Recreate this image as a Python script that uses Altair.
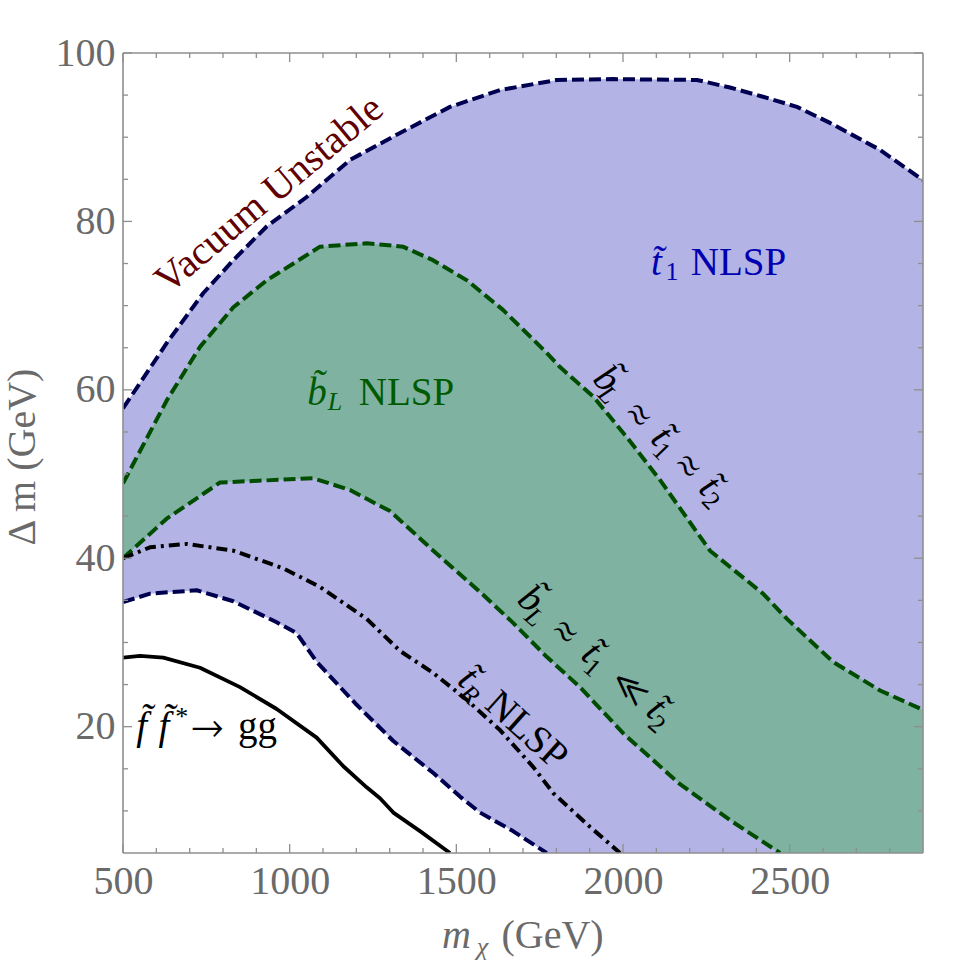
import altair as alt
import pandas as pd

# ---------------------------------------------------------------
# Region boundaries in the (m_chi, Delta m) plane, both in GeV
# ---------------------------------------------------------------
# upper edge of the viable region (vacuum stability bound)
vac_x = [500, 632, 741, 831, 931, 1051, 1181, 1331, 1481, 1631, 1802, 1970, 2222, 2321, 2420, 2522, 2621, 2771, 2900]
vac_y = [57.8, 65.6, 71.5, 75.4, 79.4, 82.9, 87.3, 90.5, 93.6, 95.6, 96.8, 96.9, 96.8, 95.9, 94.8, 93.6, 91.7, 88.5, 84.9]

# upper edge of the sbottom-NLSP band
bl_top_x = [500, 632, 731, 831, 931, 1091, 1231, 1340, 1430, 1532, 1640, 1771, 1811, 1911, 2011, 2111, 2211, 2261, 2420, 2492, 2630, 2771, 2900]
bl_top_y = [48.9, 58.8, 65.1, 69.8, 73.0, 77.0, 77.4, 77.0, 75.4, 73.0, 69.5, 64.4, 62.7, 59.2, 54.4, 49.3, 43.7, 40.9, 35.8, 32.8, 27.7, 24.3, 22.0]

# lower edge of the sbottom-NLSP band
bl_bot_x = [500, 631, 791, 1071, 1181, 1301, 1431, 1571, 1671, 1771, 1871, 2001, 2170, 2321, 2471]
bl_bot_y = [40.0, 44.7, 49.0, 49.5, 48.1, 45.6, 40.9, 36.0, 32.3, 28.3, 24.7, 19.2, 13.2, 8.9, 5.0]

# lower edge of the viable region
low_x = [500, 581, 721, 831, 961, 1021, 1081, 1201, 1311, 1431, 1511, 1571, 1670, 1771]
low_y = [34.8, 35.8, 36.2, 34.9, 32.4, 31.1, 27.7, 22.6, 18.3, 14.5, 11.7, 9.8, 7.6, 5.0]

# right-handed stop NLSP boundary (dash-dot)
tr_x = [500, 581, 691, 831, 981, 1091, 1231, 1331, 1430, 1531, 1631, 1731, 1791, 1901, 1991]
tr_y = [40.0, 41.3, 41.7, 40.9, 38.8, 36.6, 32.8, 29.0, 26.4, 23.2, 19.6, 15.2, 12.1, 8.1, 5.0]

# sfermion annihilation into gluons (solid)
gg_x = [500, 551, 621, 731, 851, 961, 1081, 1161, 1231, 1271, 1311, 1391, 1481]
gg_y = [28.2, 28.4, 28.2, 27.0, 24.7, 22.1, 18.7, 15.3, 12.8, 11.5, 9.8, 7.6, 5.0]

X_DOMAIN = [500, 2900]
Y_DOMAIN = [5, 100]
x_major = [500, 1000, 1500, 2000, 2500]
y_major = [20, 40, 60, 80, 100]
x_minor = [v for v in range(600, 2900, 100) if v % 500]
y_minor = [v for v in range(10, 100, 5) if v % 20]

# ---------------------------------------------------------------
W, H = 800, 800
SERIF = "Liberation Serif"
MATH = "FreeSerif, Liberation Serif"
GRAY = "#6a6a6a"
FRAME = "#8f8f8f"
LAVENDER = "#B3B3E6"
TEAL = "#7FB2A0"
NAVY = "#000050"
DKGREEN = "#004D00"

xs = alt.Scale(domain=X_DOMAIN, nice=False, zero=False)
ys = alt.Scale(domain=Y_DOMAIN, nice=False, zero=False)
ax_x = alt.Axis(values=x_major, format="d", title=None, ticks=False, domain=False, grid=False,
                labelFont=SERIF, labelFontSize=40, labelColor=GRAY, labelPadding=8,
                labelFlush=False, labelOverlap=False)
ax_y = alt.Axis(values=y_major, format="d", title=None, ticks=False, domain=False, grid=False,
                labelFont=SERIF, labelFontSize=40, labelColor=GRAY, labelPadding=8,
                labelOverlap=False)


def X(f):
    return alt.X(f, type="quantitative", scale=xs, axis=ax_x)


def Y(f):
    return alt.Y(f, type="quantitative", scale=ys, axis=ax_y)


def frame(xv, yv):
    return pd.DataFrame({"m": xv, "dm": yv})


def fill_below(xv, yv, color):
    return alt.Chart(frame(xv, yv)).mark_area(color=color, opacity=1, clip=True).encode(
        x=X("m"), y=Y("dm"), y2=alt.datum(Y_DOMAIN[0]))


def contour(xv, yv, color, dash=None, width=4):
    kw = dict(color=color, strokeWidth=width, clip=True, strokeCap="butt", strokeJoin="round")
    if dash:
        kw["strokeDash"] = dash
    return alt.Chart(frame(xv, yv)).mark_line(**kw).encode(x=X("m"), y=Y("dm"))


def label(xv, yv, pieces, color="black", angle=0):
    """Place a run of text pieces (dx along the baseline, dy across it)."""
    base = alt.Chart(pd.DataFrame({"m": [xv], "dm": [yv]}))
    out = []
    for p in pieces:
        txt, dx, dy, size, style = p[:5]
        font = p[5] if len(p) > 5 else SERIF
        kw = dict(text=txt, dx=dx, dy=dy, fontSize=size, font=font, color=color,
                  align="center", baseline="alphabetic",
                  fontStyle=style if style else "normal")
        if angle:
            kw["angle"] = angle
        out.append(base.mark_text(**kw).encode(x=X("m"), y=Y("dm")))
    return out


def free_text(px, py, txt, size=40, style=None, angle=0, color=GRAY):
    kw = dict(text=txt, fontSize=size, font=SERIF, color=color, align="center",
              baseline="alphabetic", fontStyle=style if style else "normal")
    if angle:
        kw["angle"] = angle
    return alt.Chart(pd.DataFrame({"k": [0]})).mark_text(**kw).encode(
        x=alt.value(px), y=alt.value(py))


# stacked fills: each layer paints everything below its curve
layers = [
    fill_below(vac_x, vac_y, LAVENDER),
    fill_below(bl_top_x, bl_top_y, TEAL),
    fill_below(bl_bot_x, bl_bot_y, LAVENDER),
    fill_below(low_x, low_y, "white"),
    contour(vac_x, vac_y, NAVY, [12, 5]),
    contour(low_x, low_y, NAVY, [12, 5]),
    contour(bl_top_x, bl_top_y, DKGREEN, [12, 5]),
    contour(bl_bot_x, bl_bot_y, DKGREEN, [12, 5]),
    contour(tr_x, tr_y, "black", [11, 5, 3, 5]),
    contour(gg_x, gg_y, "black", None, 3.8),
]

# inward ticks on all four sides
tick_kw = dict(color=FRAME, strokeWidth=1.3)
for vals, ln in ((x_major, 9), (x_minor, 5)):
    d = alt.Chart(pd.DataFrame({"m": vals}))
    layers.append(d.mark_rule(**tick_kw).encode(x=X("m"), y=alt.value(H), y2=alt.value(H - ln)))
    layers.append(d.mark_rule(**tick_kw).encode(x=X("m"), y=alt.value(0), y2=alt.value(ln)))
for vals, ln in ((y_major, 9), (y_minor, 5)):
    d = alt.Chart(pd.DataFrame({"dm": vals}))
    layers.append(d.mark_rule(**tick_kw).encode(y=Y("dm"), x=alt.value(0), x2=alt.value(ln)))
    layers.append(d.mark_rule(**tick_kw).encode(y=Y("dm"), x=alt.value(W), x2=alt.value(W - ln)))

# plot frame
fr = alt.Chart(pd.DataFrame({"k": [0]}))
fkw = dict(color=FRAME, strokeWidth=1.6)
layers += [
    fr.mark_rule(**fkw).encode(x=alt.value(0), x2=alt.value(W), y=alt.value(0)),
    fr.mark_rule(**fkw).encode(x=alt.value(0), x2=alt.value(W), y=alt.value(H)),
    fr.mark_rule(**fkw).encode(y=alt.value(0), y2=alt.value(H), x=alt.value(0)),
    fr.mark_rule(**fkw).encode(y=alt.value(0), y2=alt.value(H), x=alt.value(W)),
]

# region annotations
S, s = 39, 26
bt, tt, ft = "b\u0303", "t\u0303", "f\u0303"
layers += label(962, 82.1, [("Vacuum Unstable", 0, 0, 40, None)], color="#600000", angle=320)
layers += label(2346.5, 73.6, [(tt, -82, 0, S, "italic"), ("1", -66.5, 5, s, None),
                               ("NLSP", 0, 0, S, None)], color="#0000B0")
layers += label(1350.5, 58.2, [(bt, -89.5, 0, S, "italic"), ("L", -71.5, 5, s, "italic"),
                               ("NLSP", 0, 0, S, None)], color="#005A00")
layers += label(903.5, 18.5, [(ft, -115.8, 0, S, "italic"), (ft, -93.5, 0, S, "italic"),
                              ("*", -75.8, -14, s, None), ("\u2192", -50, 0, 40, None, MATH),
                              ("gg", 0, 0, S, None)])
layers += label(2025.5, 56.2, [(bt, -48, 0, S, "italic"), ("L", -36, 7, s, "italic"),
                               ("\u2248", 0, 0, S, None, MATH), (tt, 31, 0, S, "italic"),
                               ("1", 42, 7, s, None), ("\u2248", 71, 0, S, None, MATH),
                               (tt, 100, 0, S, "italic"), ("2", 112, 6, s, None)], angle=46)
layers += label(1807, 30.4, [(bt, -47, 0, S, "italic"), ("L", -33, 8, s, "italic"),
                             ("\u2248", 0, 0, S, None, MATH), (tt, 33, 0, S, "italic"),
                             ("1", 44, 8, s, None), ("\u226A", 86, 0, S, None, MATH),
                             (tt, 119, 0, S, "italic"), ("2", 130, 8, s, None)], angle=41)
layers += label(1693, 18.8, [(tt, -79, 3, S, "italic"), ("R", -66, 11, s, "italic"),
                             ("NLSP", 0, 3, S, None)], angle=42)

# axis titles
layers += [
    free_text(-88, 404, "\u0394 m (GeV)", angle=270),
    free_text(333.5, 895, "m", style="italic"),
    free_text(359.5, 902, "\u03c7", size=26, style="italic"),
    free_text(429.5, 895, "(GeV)"),
]

chart = alt.layer(*layers).properties(
    width=W, height=H,
    padding={"left": 123, "top": 53, "right": 57, "bottom": 110},
    autosize=alt.AutoSizeParams(type="none"),
    background="white",
).configure(font=SERIF).configure_view(strokeWidth=0)

chart.save("out.html", embed_options={"renderer": "svg", "actions": False})
